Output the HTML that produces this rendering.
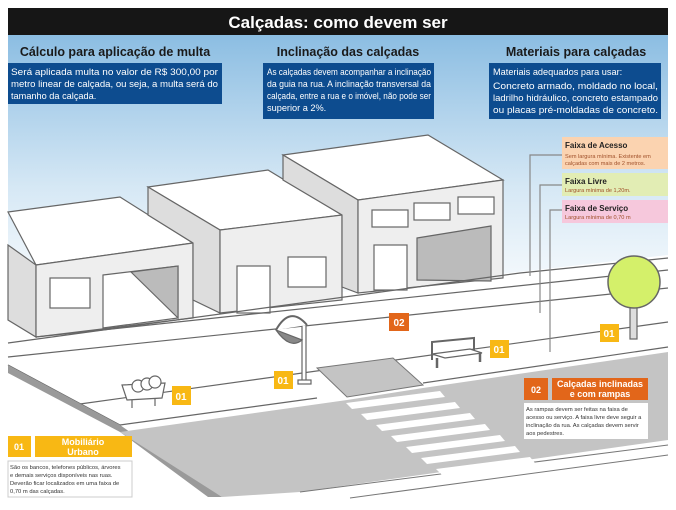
<!DOCTYPE html>
<html><head><meta charset="utf-8"><style>
body{margin:0;background:#fff;width:676px;height:505px;overflow:hidden;font-family:"Liberation Sans",sans-serif}
</style></head><body>
<svg width="676" height="505" viewBox="0 0 676 505" xmlns="http://www.w3.org/2000/svg" font-family="Liberation Sans, sans-serif">
<defs>
<linearGradient id="sky" x1="0" y1="0" x2="0" y2="1">
<stop offset="0" stop-color="#8bbde2"/><stop offset="0.55" stop-color="#d6e8f5"/><stop offset="1" stop-color="#ffffff"/>
</linearGradient>
</defs>
<rect x="8" y="34" width="660" height="280" fill="url(#sky)"/>
<rect x="8" y="8" width="660" height="27" fill="#161616"/>
<text x="338" y="28" font-size="17" font-weight="bold" fill="#fff" text-anchor="middle">Calçadas: como devem ser</text>
<g font-size="12.5" font-weight="bold" fill="#1a1a1a" text-anchor="middle">
<text x="115" y="56">Cálculo para aplicação de multa</text>
<text x="348" y="56">Inclinação das calçadas</text>
<text x="576" y="56">Materiais para calçadas</text>
</g>
<g fill="#0d4c8f"><rect x="8" y="63" width="214" height="41"/><rect x="263" y="63" width="171" height="56"/><rect x="489" y="63" width="172" height="56"/></g>
<g font-size="9.2" fill="#fff">
<text x="11" y="75" textLength="207" lengthAdjust="spacingAndGlyphs">Será aplicada multa no valor de R$ 300,00 por</text>
<text x="11" y="87" textLength="207" lengthAdjust="spacingAndGlyphs">metro linear de calçada, ou seja, a multa será do</text>
<text x="11" y="99">tamanho da calçada.</text>
<text x="267" y="75" textLength="164" lengthAdjust="spacingAndGlyphs">As calçadas devem acompanhar a inclinação</text>
<text x="267" y="87" textLength="164" lengthAdjust="spacingAndGlyphs">da guia na rua. A inclinação transversal da</text>
<text x="267" y="99" textLength="164" lengthAdjust="spacingAndGlyphs">calçada, entre a rua e o imóvel, não pode ser</text>
<text x="267" y="111">superior a 2%.</text>
<text x="493" y="75">Materiais adequados para usar:</text>
<text x="493" y="89" textLength="165" lengthAdjust="spacingAndGlyphs">Concreto armado, moldado no local,</text>
<text x="493" y="101" textLength="165" lengthAdjust="spacingAndGlyphs">ladrilho hidráulico, concreto estampado</text>
<text x="493" y="113" textLength="165" lengthAdjust="spacingAndGlyphs">ou placas pré-moldadas de concreto.</text>
</g>
<polygon points="8,330 668,255 668,500 8,500" fill="#fff"/>
<g stroke="#666" stroke-width="1.2" fill="none">
<polygon points="8,212 120,197 193,243 36,265" fill="#fff"/>
<polygon points="8,245 36,265 36,337 8,320" fill="#ddd"/>
<polygon points="36,265 193,243 193,318 36,337" fill="#eee"/>
<rect x="50" y="278" width="40" height="30" fill="#fff"/>
<polygon points="103,275 178,266 178,318 103,328" fill="#fff"/>
<polygon points="131,272 178,266 178,318" fill="#bbb"/>
<polygon points="148,187 268,170 342,215 220,230" fill="#fff"/>
<polygon points="148,187 220,230 220,313 193,300 193,243 148,215" fill="#ddd"/>
<polygon points="220,230 342,215 342,300 220,313" fill="#eee"/>
<rect x="237" y="266" width="33" height="47" fill="#fff"/>
<rect x="288" y="257" width="38" height="30" fill="#fff"/>
<polygon points="283,155 428,135 503,180 358,200" fill="#fff"/>
<polygon points="283,155 358,200 358,293 342,287 342,215 283,180" fill="#ddd"/>
<polygon points="358,200 503,180 503,278 358,293" fill="#eee"/>
<rect x="372" y="210" width="36" height="17" fill="#fff"/>
<rect x="414" y="203" width="36" height="17" fill="#fff"/>
<rect x="458" y="197" width="36" height="17" fill="#fff"/>
<rect x="374" y="245" width="33" height="45" fill="#fff"/>
<polygon points="417,238 491,226 491,281 417,280" fill="#bbb"/>
<polyline points="8,343 520,273 668,258"/>
<line x1="36" y1="337" x2="668" y2="270"/>
<line x1="8" y1="357" x2="668" y2="288"/>
<line x1="8" y1="365" x2="120" y2="425"/>
<line x1="120" y1="425" x2="317" y2="398"/>
<line x1="423" y1="383" x2="668" y2="347"/>
<line x1="80" y1="404" x2="668" y2="322"/>
</g>
<polygon points="8,365 120,425 222,497 208,497 120,432 8,373" fill="#9a9a9a"/>
<polygon points="120,432 347,400 423,388 668,352 668,440 300,492 222,497" fill="#c4c4c4"/>
<polygon points="317,368 393,358 423,385 347,397" fill="#c4c4c4" stroke="#777"/>
<g stroke="#777" fill="none"><line x1="300" y1="492" x2="668" y2="445"/><line x1="350" y1="498" x2="668" y2="455"/></g>
<g fill="#fff">
<polygon points="346,403 440,391 445,397 352,409"/>
<polygon points="361,414 455,402 460,408 367,420"/>
<polygon points="376,425 470,413 475,419 382,431"/>
<polygon points="391,436 485,424 490,430 397,442"/>
<polygon points="406,447 500,435 505,441 412,453"/>
<polygon points="421,458 515,446 520,452 427,464"/>
<polygon points="436,469 530,457 535,463 442,475"/>
</g>
<g stroke="#666" stroke-width="1.2">
<rect x="302" y="325" width="4" height="57" fill="#fff"/>
<path d="M276,330 Q290,305 307,325" fill="#fff" stroke-width="2"/>
<path d="M276,330 Q290,350 302,340 Z" fill="#888"/>
<rect x="298" y="380" width="13" height="4" fill="#fff"/>
<polyline points="432,360 432,342 474,338 474,352" fill="none" stroke-width="2"/>
<polygon points="432,354 470,349 482,353 445,358" fill="#fff"/>
<line x1="437" y1="358" x2="437" y2="368" stroke-width="2.5"/><line x1="480" y1="353" x2="480" y2="362" stroke-width="2.5"/>
<path d="M122,385 L165,383 L162,398 L127,400 Z" fill="#fff"/>
<circle cx="138" cy="386" r="6" fill="#fff"/><circle cx="147" cy="384" r="6" fill="#fff"/><circle cx="155" cy="382" r="6" fill="#fff"/>
<line x1="132" y1="400" x2="132" y2="408"/><line x1="155" y1="399" x2="155" y2="406"/>
<rect x="630" y="305" width="7" height="34" fill="#ddd"/>
<circle cx="634" cy="282" r="26" fill="#d4f06a" stroke-width="1.5"/>
<g fill="none" stroke="#888">
<polyline points="562,155 530,155 530,276"/>
<polyline points="562,185 540,185 540,313"/>
<polyline points="562,210 550,210 550,352"/>
</g>
</g>
<rect x="562" y="137" width="106" height="32" fill="#fbd3b0"/>
<rect x="562" y="173" width="106" height="23" fill="#e2edb4"/>
<rect x="562" y="200" width="106" height="23" fill="#f6c8dc"/>
<g font-size="8" font-weight="bold" fill="#222"><text x="565" y="148">Faixa de Acesso</text><text x="565" y="184">Faixa Livre</text><text x="565" y="211">Faixa de Serviço</text></g>
<g font-size="5.6" fill="#a0502a"><text x="565" y="158">Sem largura mínima. Existente em</text><text x="565" y="165">calçadas com mais de 2 metros.</text><text x="565" y="192">Largura mínima de 1,20m.</text><text x="565" y="219">Largura mínima de 0,70 m</text></g>
<g font-size="10" font-weight="bold" fill="#fff" text-anchor="middle">
<rect x="389" y="313" width="20" height="18" fill="#e2661a"/><text x="399" y="326">02</text>
<rect x="172" y="386" width="19" height="19" fill="#f8b814"/><text x="181" y="400">01</text>
<rect x="274" y="371" width="19" height="18" fill="#f8b814"/><text x="283" y="384">01</text>
<rect x="490" y="340" width="19" height="18" fill="#f8b814"/><text x="499" y="353">01</text>
<rect x="600" y="324" width="19" height="18" fill="#f8b814"/><text x="609" y="337">01</text>
</g>
<rect x="8" y="436" width="23" height="21" fill="#f8b814"/>
<rect x="35" y="436" width="97" height="21" fill="#f8b814"/>
<g font-size="9" font-weight="bold" fill="#fff" text-anchor="middle"><text x="19" y="450">01</text><text x="83" y="445">Mobiliário</text><text x="83" y="455">Urbano</text></g>
<rect x="8" y="461" width="124" height="36" fill="#fff" stroke="#ccc"/>
<g font-size="5.8" fill="#333"><text x="10" y="469">São os bancos, telefones públicos, árvores</text><text x="10" y="477">e demais serviços disponíveis nas ruas.</text><text x="10" y="485">Deverão ficar localizados em uma faixa de</text><text x="10" y="493">0,70 m das calçadas.</text></g>
<rect x="524" y="378" width="24" height="22" fill="#e2661a"/>
<rect x="552" y="378" width="96" height="22" fill="#e2661a"/>
<g font-size="9" font-weight="bold" fill="#fff" text-anchor="middle"><text x="536" y="393">02</text><text x="600" y="387">Calçadas inclinadas</text><text x="600" y="397">e com rampas</text></g>
<rect x="524" y="403" width="124" height="36" fill="#fff"/>
<g font-size="5.8" fill="#333"><text x="526" y="411">As rampas devem ser feitas na faixa de</text><text x="526" y="419">acesso ou serviço. A faixa livre deve seguir a</text><text x="526" y="427">inclinação da rua.  As calçadas devem servir</text><text x="526" y="435">aos pedestres.</text></g>
</svg>
</body></html>
